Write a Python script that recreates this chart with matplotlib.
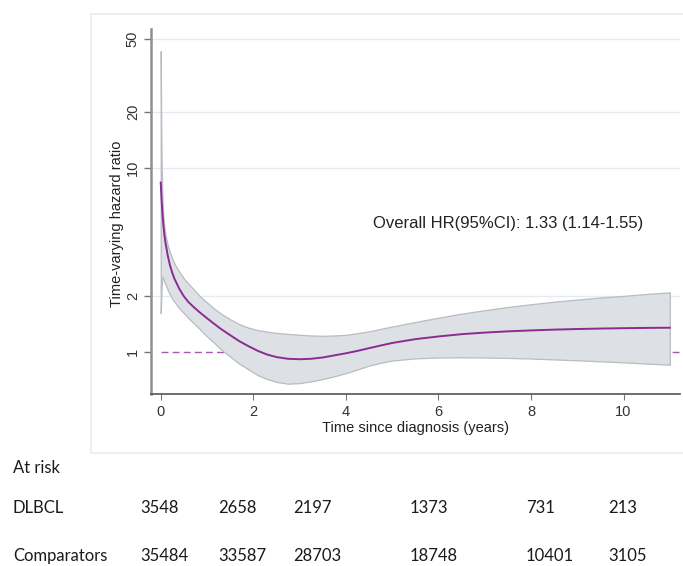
import matplotlib
matplotlib.use("Agg")
import matplotlib.pyplot as plt
from matplotlib.patches import Rectangle

# time-varying hazard ratio
years = [0, 0.01, 0.02, 0.04, 0.06, 0.08, 0.1, 0.15, 0.2, 0.25, 0.3, 0.4, 0.5, 0.6, 0.7,
         0.85, 1.0, 1.15, 1.3, 1.5, 1.7, 1.9, 2.1, 2.3, 2.5, 2.75, 3.0, 3.25, 3.5, 3.75,
         4.0, 4.25, 4.5, 4.75, 5.0, 5.5, 6.0, 6.5, 7.0, 7.5, 8.0, 8.5, 9.0, 9.5, 10.0,
         10.5, 11.0]
hr = [8.3, 7.4, 6.6, 5.5, 4.8, 4.3, 3.95, 3.35, 2.95, 2.68, 2.48, 2.2, 2.0, 1.86, 1.76,
      1.63, 1.52, 1.42, 1.33, 1.23, 1.14, 1.07, 1.01, 0.965, 0.935, 0.915, 0.91, 0.915,
      0.93, 0.955, 0.98, 1.01, 1.045, 1.08, 1.115, 1.17, 1.21, 1.245, 1.27, 1.29, 1.305,
      1.318, 1.328, 1.336, 1.342, 1.347, 1.35]
hr_upper = [43, 18, 10, 6.5, 5.3, 4.7, 4.35, 3.8, 3.45, 3.2, 3.0, 2.72, 2.5, 2.34, 2.2,
            2.0, 1.85, 1.72, 1.61, 1.5, 1.41, 1.35, 1.31, 1.285, 1.265, 1.25, 1.235, 1.225,
            1.22, 1.225, 1.235, 1.26, 1.29, 1.33, 1.37, 1.45, 1.53, 1.61, 1.68, 1.75, 1.81,
            1.87, 1.92, 1.97, 2.01, 2.06, 2.10]
hr_lower = [1.62, 1.95, 2.3, 2.55, 2.48, 2.4, 2.33, 2.17, 2.04, 1.94, 1.86, 1.72, 1.62,
            1.52, 1.44, 1.32, 1.21, 1.12, 1.03, 0.94, 0.86, 0.8, 0.745, 0.71, 0.685, 0.67,
            0.675, 0.69, 0.71, 0.735, 0.765, 0.8, 0.84, 0.87, 0.895, 0.92, 0.93, 0.932,
            0.93, 0.925, 0.918, 0.908, 0.898, 0.887, 0.875, 0.862, 0.85]

y_ticks = [1, 2, 10, 20, 50]
x_ticks = [0, 2, 4, 6, 8, 10]
overall_text = "Overall HR(95%CI): 1.33 (1.14-1.55)"

# numbers at risk
risk_groups = ["DLBCL", "Comparators"]
risk_dlbcl = [3548, 2658, 2197, 1373, 731, 213]
risk_comp = [35484, 33587, 28703, 18748, 10401, 3105]

plt.rcParams['font.family'] = ['Liberation Sans', 'DejaVu Sans']

W, H = 683, 566
fig = plt.figure(figsize=(W / 100, H / 100), dpi=100)

# outer graph region box (stata style)
fig.patches.append(Rectangle((91 / W, 1 - 453 / H), 0.9, (453 - 14) / H,
                             transform=fig.transFigure, fill=False,
                             edgecolor='#e6ecf2', lw=1.2))

ax = fig.add_axes([151 / W, 1 - 394 / H, (680 - 151) / W, (394 - 29) / H])
ax.set_yscale('log')
ax.set_xlim(-0.21, 11.22)
ax.set_ylim(0.589, 56.7)

for g in [2, 10, 20, 50]:
    ax.axhline(g, color='#e4ebf0', lw=1, zorder=0)
ax.axhline(1, xmin=(0 + 0.21) / 11.43, color='#a65bb0', lw=1, ls=(0, (5, 3)), zorder=1)

ax.fill_between(years, hr_lower, hr_upper, facecolor='#dde0e4', edgecolor='#b8bcc3',
                lw=0.9, zorder=2)
ax.plot(years, hr, color='#8a2c93', lw=1.4, zorder=3)

ax.text(7.5, 5.0, overall_text, ha='center', va='center', fontsize=12, color='#222222')

ax.set_yticks(y_ticks)
ax.set_yticklabels([str(v) for v in y_ticks], rotation=90, va='center')
ax.yaxis.set_minor_locator(matplotlib.ticker.NullLocator())
ax.set_xticks(x_ticks)

for s in ['top', 'right']:
    ax.spines[s].set_visible(False)
ax.spines['left'].set_color('#8f8f8f')
ax.spines['left'].set_linewidth(1.8)
ax.spines['bottom'].set_color('#555555')
ax.spines['bottom'].set_linewidth(1.2)

ax.tick_params(axis='y', length=5, width=1, color='#777777', pad=3, labelsize=10.5,
               labelcolor='#333333')
ax.tick_params(axis='x', length=4, width=0.8, color='#777777', pad=4, labelsize=10.5,
               labelcolor='#333333')

ax.set_xlabel("Time since diagnosis (years)", fontsize=10.5, color='#222222', labelpad=1.5)
ax.set_ylabel("Time-varying hazard ratio", fontsize=10.5, color='#222222')
ax.yaxis.set_label_coords(-0.051, 0.466)

# at-risk table under the graph
tfont = dict(family=['Lato', 'DejaVu Sans'], fontsize=12, color='#1a1a1a', va='center')
col_x = [140, 218, 293, 410, 526, 608]
fig.text(13 / W, 1 - 468 / H, "At risk", **tfont)
rows_y = [508, 556]
for name, vals, yy in zip(risk_groups, [risk_dlbcl, risk_comp], rows_y):
    fig.text(13 / W, 1 - yy / H, name, **tfont)
    for cx, v in zip(col_x, vals):
        fig.text(cx / W, 1 - yy / H, str(v), **tfont)

fig.savefig("out.png", dpi=100)
